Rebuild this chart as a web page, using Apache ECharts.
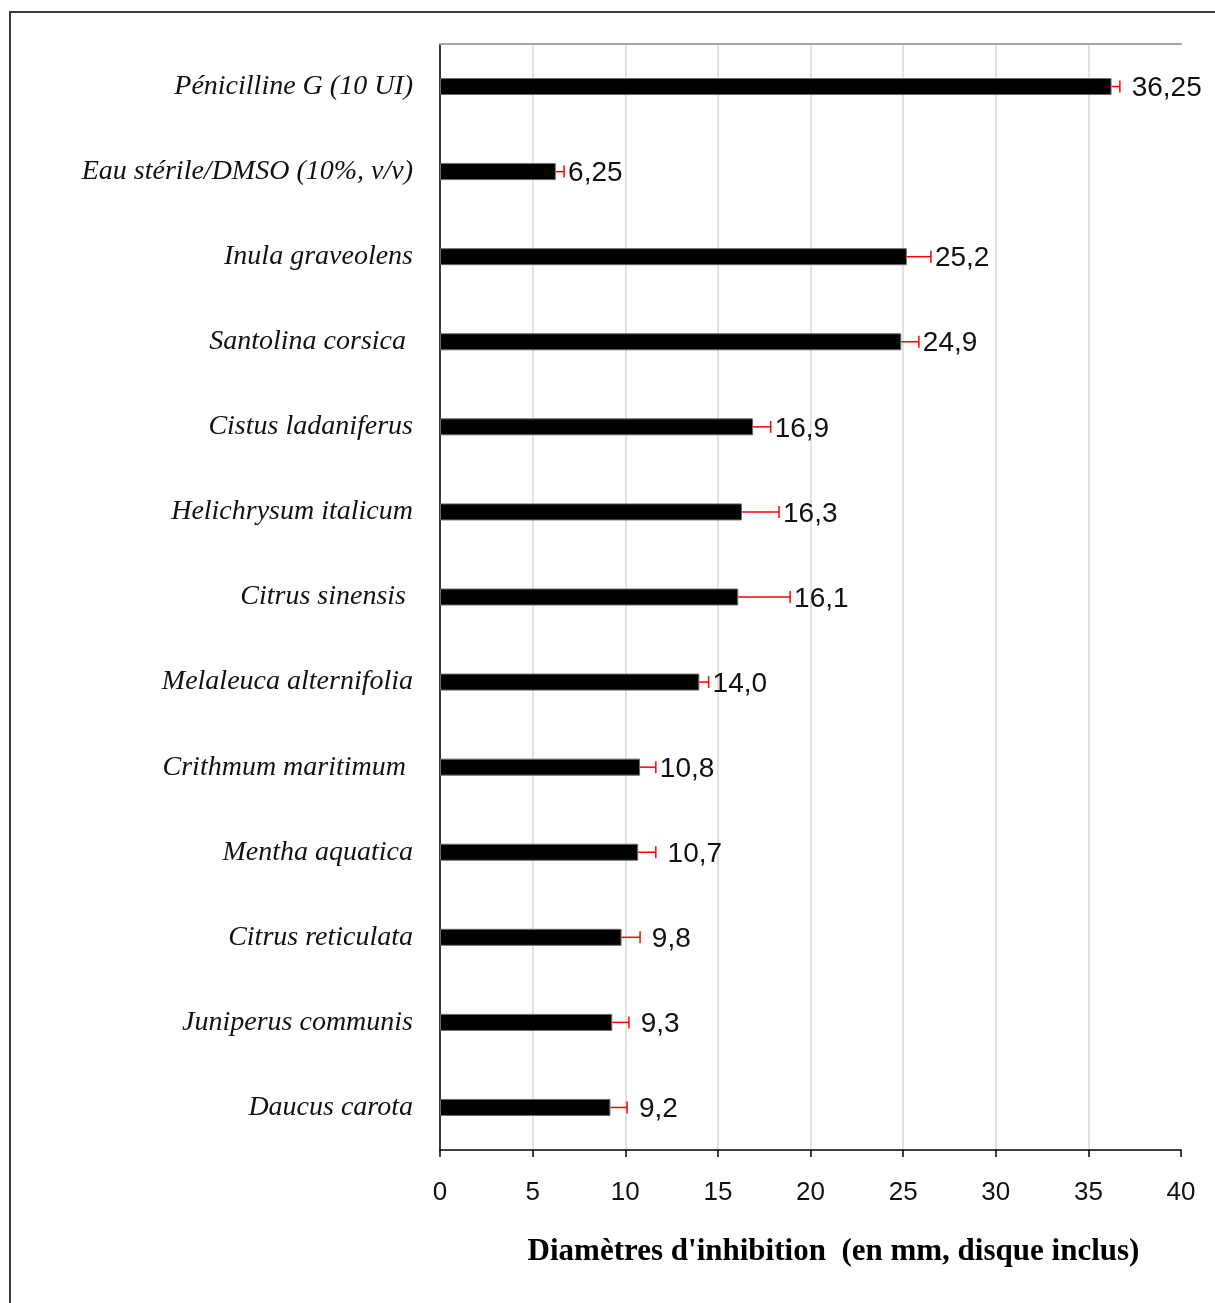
<!DOCTYPE html>
<html>
<head>
<meta charset="utf-8">
<script src="https://cdn.jsdelivr.net/npm/echarts@6/dist/echarts.min.js"></script>
<style>
  html, body { margin: 0; padding: 0; background: #fff; }
  #frame { position: absolute; left: 9px; top: 11px; width: 1230px; height: 1320px; border: 2px solid #3a3a3a; }
  #main { position: absolute; left: 0; top: 0; width: 1215px; height: 1303px; }
</style>
</head>
<body>
<div id="frame"></div>
<div id="main"></div>
<script>
// categories, top to bottom
const categories = ['Pénicilline G (10 UI)', 'Eau stérile/DMSO (10%, v/v)', 'Inula graveolens', 'Santolina corsica ', 'Cistus ladaniferus', 'Helichrysum italicum', 'Citrus sinensis ', 'Melaleuca alternifolia', 'Crithmum maritimum ', 'Mentha aquatica', 'Citrus reticulata', 'Juniperus communis', 'Daucus carota']
const values = [36.25, 6.25, 25.2, 24.9, 16.9, 16.3, 16.1, 14.0, 10.8, 10.7, 9.8, 9.3, 9.2]
// positive error
const errors = [0.45, 0.45, 1.3, 0.95, 0.95, 2.0, 2.8, 0.5, 0.85, 0.95, 1.0, 0.9, 0.9]
const labels = [' 36,25', '6,25', '25,2', '24,9', '16,9', '16,3', '16,1', '14,0', '10,8', ' 10,7', ' 9,8', ' 9,3', ' 9,2']
const xTicks = [0, 5, 10, 15, 20, 25, 30, 35, 40]

const chart = echarts.init(document.getElementById('main'))

const option = {
  animation: false,
  grid: {
    left: 440,
    right: 34,
    top: 44,
    bottom: 153,
    containLabel: false
  },
  xAxis: [{
    type: 'value',
    min: xTicks[0],
    max: xTicks[xTicks.length - 1],
    interval: 5,
    axisLine: { show: true, lineStyle: { color: '#000', width: 1.5 } },
    axisTick: { show: true, inside: false, length: 7, lineStyle: { color: '#000', width: 1.5 } },
    axisLabel: { color: '#111', fontFamily: 'Liberation Sans', fontSize: 26, margin: 30 },
    splitLine: { show: true, showMaxLine: false, lineStyle: { color: '#d9d9d9', width: 1.5 } },
    name: "Diamètres d'inhibition  (en mm, disque inclus)",
    nameLocation: 'middle',
    nameGap: 86,
    nameTextStyle: { color: '#000', fontFamily: 'Liberation Serif', fontWeight: 'bold', fontSize: 31, padding: [0, 0, 0, 46] }
  }, {
    type: 'value',
    position: 'top',
    min: xTicks[0],
    max: xTicks[xTicks.length - 1],
    axisLine: { show: true, lineStyle: { color: '#a6a6a6', width: 2 } },
    axisTick: { show: false },
    axisLabel: { show: false },
    splitLine: { show: false }
  }],
  yAxis: {
    type: 'category',
    inverse: true,
    data: categories,
    axisLine: { show: true, lineStyle: { color: '#000', width: 1.5 } },
    axisTick: { show: false },
    axisLabel: { color: '#111', fontFamily: 'Liberation Serif', fontStyle: 'italic', fontSize: 28, margin: 27, padding: [4, 0, 0, 0] }
  },
  series: [{
    type: 'bar',
    data: values,
    barWidth: 17,
    itemStyle: { color: '#000', borderColor: '#6b6b6b', borderWidth: 1 }
  }, {
    type: 'custom',
    data: values.map((v, i) => [i, v, errors[i]]),
    encode: { x: [1], y: 0 },
    z: 5,
    renderItem: function (params, api) {
      const i = api.value(0)
      const v = api.value(1)
      const e = api.value(2)
      const start = api.coord([v, i])
      const end = api.coord([v + e, i])
      const cap = 6
      return {
        type: 'group',
        children: [{
          type: 'line',
          shape: { x1: start[0], y1: start[1], x2: end[0], y2: end[1] },
          style: { stroke: '#ff0000', lineWidth: 1.5 }
        }, {
          type: 'line',
          shape: { x1: end[0], y1: end[1] - cap, x2: end[0], y2: end[1] + cap },
          style: { stroke: '#ff0000', lineWidth: 1.5 }
        }, {
          type: 'text',
          x: end[0] + 4,
          y: end[1] + 2,
          style: {
            text: labels[i],
            fill: '#111',
            font: '28px "Liberation Sans"',
            verticalAlign: 'middle',
            align: 'left'
          }
        }]
      }
    }
  }]
}

chart.setOption(option)
</script>
</body>
</html>
